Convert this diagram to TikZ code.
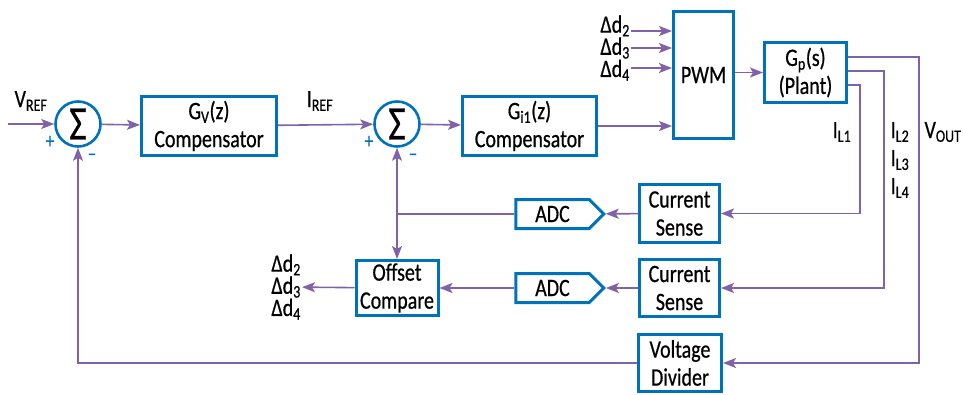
\documentclass[tikz,border=0pt]{standalone}
\usepackage{fontspec}
\setmainfont[FakeStretch=0.8,FakeBold=0.6]{Carlito}
\usetikzlibrary{shapes,arrows.meta}
\usetikzlibrary{positioning}
\usetikzlibrary{calc}
\definecolor{myblue}{RGB}{0,114,188}
\definecolor{mypurple}{RGB}{128,98,170}
\newcommand\mysub[2]{#1\textsubscript{#2}}

\begin{document}
\begin{tikzpicture}[
x=1pt,y=-1pt,
font=\fontsize{25}{28}\selectfont,
>={Stealth[length=13pt,width=10pt,inset=3pt]},
mybox/.style={
  draw=myblue,
  line width=3pt,
  align=center,
  inner sep=0pt},
mysum/.style={
  circle,
  draw=myblue,
  line width=2.6pt,
  minimum size=45pt,
  inner sep=0pt,
  font=\fontsize{48}{48}\selectfont},
myadc/.style={
  signal,
  signal to=east,
  draw=myblue,
  line width=3pt,
  minimum width=88pt,
  minimum height=29pt,
  inner sep=0pt},
mysign/.style={text=myblue,inner sep=0pt,font=\fontsize{22}{22}\selectfont},
mylabel/.style={inner sep=1pt,align=center},
mywire/.style={draw=mypurple,line width=1.6pt}
]
\useasboundingbox (0,0) rectangle (963,394);

\node[mysum] (s1) at (78,124) {Σ};
\node[mybox,minimum width=135pt,minimum height=59pt] (gv) at (209,126) {\mysub{G}{V}(z)\\Compensator};
\node[mysum] (s2) at (397,124) {Σ};
\node[mybox,minimum width=134pt,minimum height=59pt] (gi) at (529.5,126) {\mysub{G}{i1}(z)\\Compensator};
\node[mybox,minimum width=60pt,minimum height=127pt] (pwm) at (703.5,75) {PWM};
\node[mybox,minimum width=82pt,minimum height=60pt] (plant) at (805.5,72.5) {\mysub{G}{p}(s)\\(Plant)};
\node[mybox,minimum width=80pt,minimum height=58pt] (cs1) at (679.5,213.5) {Current\\Sense};
\node[mybox,minimum width=80pt,minimum height=57pt] (cs2) at (679.5,288) {Current\\Sense};
\node[mybox,minimum width=83pt,minimum height=57pt] (vd) at (680,363) {Voltage\\Divider};
\node[myadc] (adc1) at (552.5,214) {ADC};
\node[myadc] (adc2) at (552.5,288) {ADC};
\node[mybox,minimum width=82pt,minimum height=55pt] (off) at (397,288) {Offset\\Compare};

\node[mysign] (p1) at (50,142) {+};
\node[mysign] (m1) at (92,157) {–};
\node[mysign] (p2) at (369,142) {+};
\node[mysign] (m2) at (413,157) {–};

\node[mylabel] (vref) at (31,101) {\mysub{V}{REF}};
\node[mylabel] (iref) at (320,101) {\mysub{I}{REF}};
\node[mylabel,anchor=east,align=left,font=\fontsize{25}{18.5}\selectfont] (din) at (631,48) {Δ\mysub{d}{2}\\Δ\mysub{d}{3}\\Δ\mysub{d}{4}};
\node[mylabel] (il1) at (842,132) {\mysub{I}{L1}};
\node[mylabel] (il2) at (900,160) {\mysub{I}{L2}\\\mysub{I}{L3}\\\mysub{I}{L4}};
\node[mylabel] (vout) at (943,132) {\mysub{V}{OUT}};
\node[mylabel,anchor=east,align=left,font=\fontsize{25}{20.5}\selectfont] (dout) at (302,287) {Δ\mysub{d}{2}\\Δ\mysub{d}{3}\\Δ\mysub{d}{4}};

\coordinate (vin) at (8,124);
\coordinate (vo) at (919,57);
\coordinate (c2) at (884,71);
\coordinate (c1) at (860,85);

\draw [mywire,->] (vin) -- (s1);
\draw [mywire,->] (s1) -- (gv);
\draw [mywire,->] (gv) -- (s2);
\draw [mywire,->] (s2) -- (gi);
\draw [mywire,->] (gi) -- (gi -| pwm.west);
\draw [mywire,->] (din.east |- 0,31) -- (pwm.west |- 0,31);
\draw [mywire,->] (din.east |- 0,48) -- (pwm.west |- 0,48);
\draw [mywire,->] (din.east |- 0,68) -- (pwm.west |- 0,68);
\draw [mywire,->] (pwm.east |- plant) -- (plant);
\draw [mywire,->] (plant.east |- vo) -- (vo) |- (vd);
\draw [mywire,->] (plant.east |- c2) -- (c2) |- (cs2);
\draw [mywire,->] (plant.east |- c1) -- (c1) |- (cs1);
\draw [mywire,->] (cs1) -- (adc1);
\draw [mywire,->] (cs2) -- (adc2);
\draw [mywire] (adc1) -- (adc1 -| s2);
\draw [mywire,->] (adc1 -| s2) -- (s2);
\draw [mywire,->] (adc1 -| s2) -- (off);
\draw [mywire,->] (adc2) -- (off);
\draw [mywire,->] (off) -- (dout);
\draw [mywire,->] (vd) -| (s1);
\end{tikzpicture}
\end{document}
